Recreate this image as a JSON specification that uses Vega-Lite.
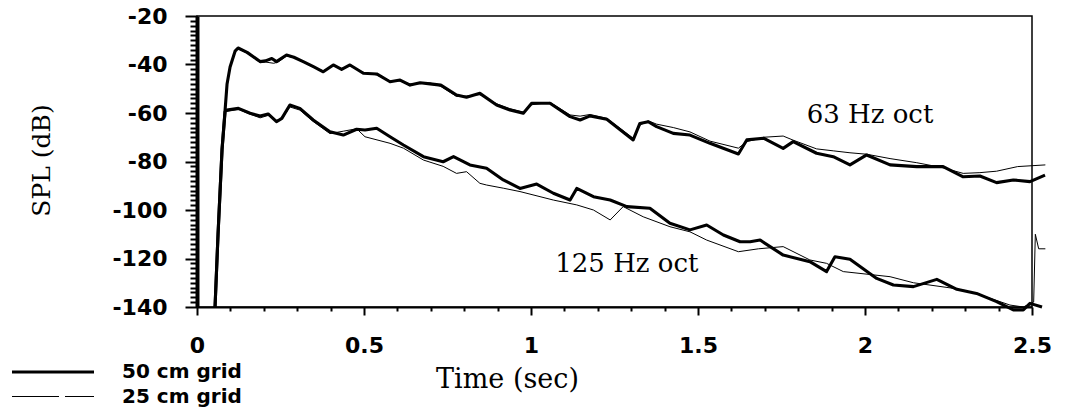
{
  "$schema": "https://vega.github.io/schema/vega-lite/v6.json",
  "width": 835,
  "height": 291,
  "autosize": {"type": "none"},
  "padding": {"left": 197, "top": 16, "right": 33, "bottom": 109},
  "background": "white",
  "config": {
    "view": {"stroke": "black", "strokeWidth": 1.5},
    "axis": {"grid": false, "domainColor": "black", "tickColor": "black", "labelColor": "black", "titleColor": "black", "labelOverlap": false}
  },
  "datasets": {
    "notes": [
      {"time": 2.015, "spl": -60.8, "note": "63 Hz oct"},
      {"time": 1.287, "spl": -122.3, "note": "125 Hz oct"}
    ],
    "curves": [
      {"band": "63", "grid": "25 cm grid", "time": 0.054, "spl": -140},
      {"band": "63", "grid": "25 cm grid", "time": 0.063, "spl": -110},
      {"band": "63", "grid": "25 cm grid", "time": 0.075, "spl": -75},
      {"band": "63", "grid": "25 cm grid", "time": 0.084, "spl": -59},
      {"band": "63", "grid": "25 cm grid", "time": 0.09, "spl": -48},
      {"band": "63", "grid": "25 cm grid", "time": 0.099, "spl": -41},
      {"band": "63", "grid": "25 cm grid", "time": 0.114, "spl": -34.8},
      {"band": "63", "grid": "25 cm grid", "time": 0.123, "spl": -33.5},
      {"band": "63", "grid": "25 cm grid", "time": 0.15, "spl": -35.3},
      {"band": "63", "grid": "25 cm grid", "time": 0.189, "spl": -39.2},
      {"band": "63", "grid": "25 cm grid", "time": 0.205, "spl": -39},
      {"band": "63", "grid": "25 cm grid", "time": 0.23, "spl": -39.5},
      {"band": "63", "grid": "25 cm grid", "time": 0.245, "spl": -38.8},
      {"band": "63", "grid": "25 cm grid", "time": 0.268, "spl": -36.5},
      {"band": "63", "grid": "25 cm grid", "time": 0.29, "spl": -37.2},
      {"band": "63", "grid": "25 cm grid", "time": 0.318, "spl": -39},
      {"band": "63", "grid": "25 cm grid", "time": 0.35, "spl": -41.2},
      {"band": "63", "grid": "25 cm grid", "time": 0.378, "spl": -42.6},
      {"band": "63", "grid": "25 cm grid", "time": 0.408, "spl": -40.6},
      {"band": "63", "grid": "25 cm grid", "time": 0.433, "spl": -41.6},
      {"band": "63", "grid": "25 cm grid", "time": 0.458, "spl": -40.6},
      {"band": "63", "grid": "25 cm grid", "time": 0.498, "spl": -43.2},
      {"band": "63", "grid": "25 cm grid", "time": 0.538, "spl": -44.3},
      {"band": "63", "grid": "25 cm grid", "time": 0.578, "spl": -46.8},
      {"band": "63", "grid": "25 cm grid", "time": 0.608, "spl": -46.8},
      {"band": "63", "grid": "25 cm grid", "time": 0.638, "spl": -48},
      {"band": "63", "grid": "25 cm grid", "time": 0.668, "spl": -47.9},
      {"band": "63", "grid": "25 cm grid", "time": 0.698, "spl": -47.6},
      {"band": "63", "grid": "25 cm grid", "time": 0.73, "spl": -49},
      {"band": "63", "grid": "25 cm grid", "time": 0.777, "spl": -53.2},
      {"band": "63", "grid": "25 cm grid", "time": 0.807, "spl": -53},
      {"band": "63", "grid": "25 cm grid", "time": 0.847, "spl": -52.4},
      {"band": "63", "grid": "25 cm grid", "time": 0.897, "spl": -56.2},
      {"band": "63", "grid": "25 cm grid", "time": 0.937, "spl": -58.2},
      {"band": "63", "grid": "25 cm grid", "time": 0.977, "spl": -59.6},
      {"band": "63", "grid": "25 cm grid", "time": 1.002, "spl": -56.6},
      {"band": "63", "grid": "25 cm grid", "time": 1.057, "spl": -55.6},
      {"band": "63", "grid": "25 cm grid", "time": 1.117, "spl": -60.8},
      {"band": "63", "grid": "25 cm grid", "time": 1.147, "spl": -61.3},
      {"band": "63", "grid": "25 cm grid", "time": 1.177, "spl": -60.6},
      {"band": "63", "grid": "25 cm grid", "time": 1.227, "spl": -62.2},
      {"band": "63", "grid": "25 cm grid", "time": 1.306, "spl": -70.4},
      {"band": "63", "grid": "25 cm grid", "time": 1.326, "spl": -65},
      {"band": "63", "grid": "25 cm grid", "time": 1.351, "spl": -63.2},
      {"band": "63", "grid": "25 cm grid", "time": 1.376, "spl": -64.6},
      {"band": "63", "grid": "25 cm grid", "time": 1.426, "spl": -66},
      {"band": "63", "grid": "25 cm grid", "time": 1.476, "spl": -67.8},
      {"band": "63", "grid": "25 cm grid", "time": 1.536, "spl": -71.6},
      {"band": "63", "grid": "25 cm grid", "time": 1.621, "spl": -74.5},
      {"band": "63", "grid": "25 cm grid", "time": 1.646, "spl": -71.8},
      {"band": "63", "grid": "25 cm grid", "time": 1.681, "spl": -70.6},
      {"band": "63", "grid": "25 cm grid", "time": 1.696, "spl": -70},
      {"band": "63", "grid": "25 cm grid", "time": 1.755, "spl": -69.5},
      {"band": "63", "grid": "25 cm grid", "time": 1.785, "spl": -71.2},
      {"band": "63", "grid": "25 cm grid", "time": 1.855, "spl": -74.8},
      {"band": "63", "grid": "25 cm grid", "time": 1.905, "spl": -75.6},
      {"band": "63", "grid": "25 cm grid", "time": 1.955, "spl": -76.4},
      {"band": "63", "grid": "25 cm grid", "time": 2.005, "spl": -77},
      {"band": "63", "grid": "25 cm grid", "time": 2.075, "spl": -78.8},
      {"band": "63", "grid": "25 cm grid", "time": 2.155, "spl": -80.5},
      {"band": "63", "grid": "25 cm grid", "time": 2.234, "spl": -82.6},
      {"band": "63", "grid": "25 cm grid", "time": 2.294, "spl": -84.9},
      {"band": "63", "grid": "25 cm grid", "time": 2.344, "spl": -84.6},
      {"band": "63", "grid": "25 cm grid", "time": 2.394, "spl": -84},
      {"band": "63", "grid": "25 cm grid", "time": 2.457, "spl": -82.1},
      {"band": "63", "grid": "25 cm grid", "time": 2.54, "spl": -81.4},

      {"band": "125", "grid": "25 cm grid", "time": 0.054, "spl": -140},
      {"band": "125", "grid": "25 cm grid", "time": 0.063, "spl": -110},
      {"band": "125", "grid": "25 cm grid", "time": 0.075, "spl": -75},
      {"band": "125", "grid": "25 cm grid", "time": 0.084, "spl": -59.5},
      {"band": "125", "grid": "25 cm grid", "time": 0.124, "spl": -58.5},
      {"band": "125", "grid": "25 cm grid", "time": 0.159, "spl": -60.5},
      {"band": "125", "grid": "25 cm grid", "time": 0.189, "spl": -62},
      {"band": "125", "grid": "25 cm grid", "time": 0.213, "spl": -61},
      {"band": "125", "grid": "25 cm grid", "time": 0.238, "spl": -63},
      {"band": "125", "grid": "25 cm grid", "time": 0.254, "spl": -62.5},
      {"band": "125", "grid": "25 cm grid", "time": 0.278, "spl": -57.5},
      {"band": "125", "grid": "25 cm grid", "time": 0.308, "spl": -58.8},
      {"band": "125", "grid": "25 cm grid", "time": 0.348, "spl": -63.5},
      {"band": "125", "grid": "25 cm grid", "time": 0.398, "spl": -68.5},
      {"band": "125", "grid": "25 cm grid", "time": 0.438, "spl": -67.5},
      {"band": "125", "grid": "25 cm grid", "time": 0.478, "spl": -66.5},
      {"band": "125", "grid": "25 cm grid", "time": 0.503, "spl": -69.8},
      {"band": "125", "grid": "25 cm grid", "time": 0.578, "spl": -72.5},
      {"band": "125", "grid": "25 cm grid", "time": 0.618, "spl": -74.5},
      {"band": "125", "grid": "25 cm grid", "time": 0.678, "spl": -79.4},
      {"band": "125", "grid": "25 cm grid", "time": 0.737, "spl": -82},
      {"band": "125", "grid": "25 cm grid", "time": 0.777, "spl": -84.9},
      {"band": "125", "grid": "25 cm grid", "time": 0.807, "spl": -84.2},
      {"band": "125", "grid": "25 cm grid", "time": 0.847, "spl": -89},
      {"band": "125", "grid": "25 cm grid", "time": 0.867, "spl": -89.7},
      {"band": "125", "grid": "25 cm grid", "time": 0.917, "spl": -91},
      {"band": "125", "grid": "25 cm grid", "time": 0.967, "spl": -92.4},
      {"band": "125", "grid": "25 cm grid", "time": 1.067, "spl": -95.9},
      {"band": "125", "grid": "25 cm grid", "time": 1.137, "spl": -97.9},
      {"band": "125", "grid": "25 cm grid", "time": 1.187, "spl": -100},
      {"band": "125", "grid": "25 cm grid", "time": 1.237, "spl": -104.1},
      {"band": "125", "grid": "25 cm grid", "time": 1.276, "spl": -98.6},
      {"band": "125", "grid": "25 cm grid", "time": 1.336, "spl": -102.8},
      {"band": "125", "grid": "25 cm grid", "time": 1.416, "spl": -106.9},
      {"band": "125", "grid": "25 cm grid", "time": 1.476, "spl": -109},
      {"band": "125", "grid": "25 cm grid", "time": 1.526, "spl": -112.4},
      {"band": "125", "grid": "25 cm grid", "time": 1.621, "spl": -117.2},
      {"band": "125", "grid": "25 cm grid", "time": 1.681, "spl": -116},
      {"band": "125", "grid": "25 cm grid", "time": 1.755, "spl": -115.1},
      {"band": "125", "grid": "25 cm grid", "time": 1.835, "spl": -120.6},
      {"band": "125", "grid": "25 cm grid", "time": 1.885, "spl": -122},
      {"band": "125", "grid": "25 cm grid", "time": 1.935, "spl": -125.4},
      {"band": "125", "grid": "25 cm grid", "time": 2.075, "spl": -127.5},
      {"band": "125", "grid": "25 cm grid", "time": 2.145, "spl": -130},
      {"band": "125", "grid": "25 cm grid", "time": 2.275, "spl": -132.5},
      {"band": "125", "grid": "25 cm grid", "time": 2.334, "spl": -134.5},
      {"band": "125", "grid": "25 cm grid", "time": 2.434, "spl": -139.2},
      {"band": "125", "grid": "25 cm grid", "time": 2.474, "spl": -140},
      {"band": "125", "grid": "25 cm grid", "time": 2.505, "spl": -138},
      {"band": "125", "grid": "25 cm grid", "time": 2.51, "spl": -110},
      {"band": "125", "grid": "25 cm grid", "time": 2.52, "spl": -116},
      {"band": "125", "grid": "25 cm grid", "time": 2.54, "spl": -116},

      {"band": "63", "grid": "50 cm grid", "time": 0.054, "spl": -140},
      {"band": "63", "grid": "50 cm grid", "time": 0.063, "spl": -110},
      {"band": "63", "grid": "50 cm grid", "time": 0.075, "spl": -75},
      {"band": "63", "grid": "50 cm grid", "time": 0.084, "spl": -59},
      {"band": "63", "grid": "50 cm grid", "time": 0.09, "spl": -48},
      {"band": "63", "grid": "50 cm grid", "time": 0.099, "spl": -41},
      {"band": "63", "grid": "50 cm grid", "time": 0.114, "spl": -34.5},
      {"band": "63", "grid": "50 cm grid", "time": 0.123, "spl": -33.2},
      {"band": "63", "grid": "50 cm grid", "time": 0.15, "spl": -35},
      {"band": "63", "grid": "50 cm grid", "time": 0.189, "spl": -38.8},
      {"band": "63", "grid": "50 cm grid", "time": 0.205, "spl": -38.5},
      {"band": "63", "grid": "50 cm grid", "time": 0.224, "spl": -37.5},
      {"band": "63", "grid": "50 cm grid", "time": 0.238, "spl": -38.8},
      {"band": "63", "grid": "50 cm grid", "time": 0.268, "spl": -36.1},
      {"band": "63", "grid": "50 cm grid", "time": 0.29, "spl": -37},
      {"band": "63", "grid": "50 cm grid", "time": 0.318, "spl": -38.8},
      {"band": "63", "grid": "50 cm grid", "time": 0.35, "spl": -41},
      {"band": "63", "grid": "50 cm grid", "time": 0.378, "spl": -43},
      {"band": "63", "grid": "50 cm grid", "time": 0.408, "spl": -40.2},
      {"band": "63", "grid": "50 cm grid", "time": 0.433, "spl": -42},
      {"band": "63", "grid": "50 cm grid", "time": 0.458, "spl": -40.2},
      {"band": "63", "grid": "50 cm grid", "time": 0.498, "spl": -43.6},
      {"band": "63", "grid": "50 cm grid", "time": 0.538, "spl": -43.9},
      {"band": "63", "grid": "50 cm grid", "time": 0.578, "spl": -47.1},
      {"band": "63", "grid": "50 cm grid", "time": 0.608, "spl": -46.4},
      {"band": "63", "grid": "50 cm grid", "time": 0.638, "spl": -48.5},
      {"band": "63", "grid": "50 cm grid", "time": 0.668, "spl": -47.5},
      {"band": "63", "grid": "50 cm grid", "time": 0.698, "spl": -48},
      {"band": "63", "grid": "50 cm grid", "time": 0.73, "spl": -48.5},
      {"band": "63", "grid": "50 cm grid", "time": 0.777, "spl": -52.6},
      {"band": "63", "grid": "50 cm grid", "time": 0.807, "spl": -53.5},
      {"band": "63", "grid": "50 cm grid", "time": 0.847, "spl": -51.9},
      {"band": "63", "grid": "50 cm grid", "time": 0.897, "spl": -56.7},
      {"band": "63", "grid": "50 cm grid", "time": 0.937, "spl": -58.8},
      {"band": "63", "grid": "50 cm grid", "time": 0.977, "spl": -60.1},
      {"band": "63", "grid": "50 cm grid", "time": 1.002, "spl": -56},
      {"band": "63", "grid": "50 cm grid", "time": 1.057, "spl": -56},
      {"band": "63", "grid": "50 cm grid", "time": 1.117, "spl": -61.5},
      {"band": "63", "grid": "50 cm grid", "time": 1.147, "spl": -62.9},
      {"band": "63", "grid": "50 cm grid", "time": 1.177, "spl": -61.2},
      {"band": "63", "grid": "50 cm grid", "time": 1.227, "spl": -62.6},
      {"band": "63", "grid": "50 cm grid", "time": 1.306, "spl": -71.1},
      {"band": "63", "grid": "50 cm grid", "time": 1.326, "spl": -64.3},
      {"band": "63", "grid": "50 cm grid", "time": 1.351, "spl": -63.6},
      {"band": "63", "grid": "50 cm grid", "time": 1.376, "spl": -65.6},
      {"band": "63", "grid": "50 cm grid", "time": 1.426, "spl": -68.4},
      {"band": "63", "grid": "50 cm grid", "time": 1.476, "spl": -69.1},
      {"band": "63", "grid": "50 cm grid", "time": 1.536, "spl": -72.5},
      {"band": "63", "grid": "50 cm grid", "time": 1.621, "spl": -76.9},
      {"band": "63", "grid": "50 cm grid", "time": 1.646, "spl": -71.1},
      {"band": "63", "grid": "50 cm grid", "time": 1.696, "spl": -70.4},
      {"band": "63", "grid": "50 cm grid", "time": 1.755, "spl": -74.6},
      {"band": "63", "grid": "50 cm grid", "time": 1.785, "spl": -71.8},
      {"band": "63", "grid": "50 cm grid", "time": 1.855, "spl": -76.6},
      {"band": "63", "grid": "50 cm grid", "time": 1.905, "spl": -78},
      {"band": "63", "grid": "50 cm grid", "time": 1.955, "spl": -81.4},
      {"band": "63", "grid": "50 cm grid", "time": 2.005, "spl": -77.3},
      {"band": "63", "grid": "50 cm grid", "time": 2.075, "spl": -81.4},
      {"band": "63", "grid": "50 cm grid", "time": 2.155, "spl": -82.1},
      {"band": "63", "grid": "50 cm grid", "time": 2.234, "spl": -82.1},
      {"band": "63", "grid": "50 cm grid", "time": 2.294, "spl": -86.3},
      {"band": "63", "grid": "50 cm grid", "time": 2.344, "spl": -86},
      {"band": "63", "grid": "50 cm grid", "time": 2.394, "spl": -88.7},
      {"band": "63", "grid": "50 cm grid", "time": 2.444, "spl": -87.6},
      {"band": "63", "grid": "50 cm grid", "time": 2.494, "spl": -88.3},
      {"band": "63", "grid": "50 cm grid", "time": 2.539, "spl": -85.6},

      {"band": "125", "grid": "50 cm grid", "time": 0.054, "spl": -140},
      {"band": "125", "grid": "50 cm grid", "time": 0.063, "spl": -110},
      {"band": "125", "grid": "50 cm grid", "time": 0.075, "spl": -75},
      {"band": "125", "grid": "50 cm grid", "time": 0.084, "spl": -59.5},
      {"band": "125", "grid": "50 cm grid", "time": 0.089, "spl": -58.8},
      {"band": "125", "grid": "50 cm grid", "time": 0.124, "spl": -58.1},
      {"band": "125", "grid": "50 cm grid", "time": 0.159, "spl": -60.1},
      {"band": "125", "grid": "50 cm grid", "time": 0.189, "spl": -61.2},
      {"band": "125", "grid": "50 cm grid", "time": 0.213, "spl": -60.4},
      {"band": "125", "grid": "50 cm grid", "time": 0.238, "spl": -63.6},
      {"band": "125", "grid": "50 cm grid", "time": 0.254, "spl": -62.2},
      {"band": "125", "grid": "50 cm grid", "time": 0.278, "spl": -56.7},
      {"band": "125", "grid": "50 cm grid", "time": 0.308, "spl": -58.1},
      {"band": "125", "grid": "50 cm grid", "time": 0.348, "spl": -62.9},
      {"band": "125", "grid": "50 cm grid", "time": 0.398, "spl": -67.7},
      {"band": "125", "grid": "50 cm grid", "time": 0.438, "spl": -69.1},
      {"band": "125", "grid": "50 cm grid", "time": 0.478, "spl": -66.7},
      {"band": "125", "grid": "50 cm grid", "time": 0.503, "spl": -67},
      {"band": "125", "grid": "50 cm grid", "time": 0.538, "spl": -66.3},
      {"band": "125", "grid": "50 cm grid", "time": 0.578, "spl": -69.8},
      {"band": "125", "grid": "50 cm grid", "time": 0.618, "spl": -73.2},
      {"band": "125", "grid": "50 cm grid", "time": 0.678, "spl": -78},
      {"band": "125", "grid": "50 cm grid", "time": 0.737, "spl": -80.1},
      {"band": "125", "grid": "50 cm grid", "time": 0.768, "spl": -78},
      {"band": "125", "grid": "50 cm grid", "time": 0.817, "spl": -81.4},
      {"band": "125", "grid": "50 cm grid", "time": 0.867, "spl": -82.8},
      {"band": "125", "grid": "50 cm grid", "time": 0.917, "spl": -87.6},
      {"band": "125", "grid": "50 cm grid", "time": 0.967, "spl": -91.1},
      {"band": "125", "grid": "50 cm grid", "time": 1.017, "spl": -89.3},
      {"band": "125", "grid": "50 cm grid", "time": 1.067, "spl": -93.1},
      {"band": "125", "grid": "50 cm grid", "time": 1.117, "spl": -95.9},
      {"band": "125", "grid": "50 cm grid", "time": 1.137, "spl": -91.1},
      {"band": "125", "grid": "50 cm grid", "time": 1.187, "spl": -94.5},
      {"band": "125", "grid": "50 cm grid", "time": 1.237, "spl": -95.9},
      {"band": "125", "grid": "50 cm grid", "time": 1.287, "spl": -98.6},
      {"band": "125", "grid": "50 cm grid", "time": 1.356, "spl": -99.3},
      {"band": "125", "grid": "50 cm grid", "time": 1.416, "spl": -105.5},
      {"band": "125", "grid": "50 cm grid", "time": 1.476, "spl": -108.2},
      {"band": "125", "grid": "50 cm grid", "time": 1.526, "spl": -106.2},
      {"band": "125", "grid": "50 cm grid", "time": 1.576, "spl": -110.3},
      {"band": "125", "grid": "50 cm grid", "time": 1.626, "spl": -113.1},
      {"band": "125", "grid": "50 cm grid", "time": 1.656, "spl": -113.1},
      {"band": "125", "grid": "50 cm grid", "time": 1.686, "spl": -112.4},
      {"band": "125", "grid": "50 cm grid", "time": 1.755, "spl": -118.6},
      {"band": "125", "grid": "50 cm grid", "time": 1.835, "spl": -121.3},
      {"band": "125", "grid": "50 cm grid", "time": 1.885, "spl": -125.4},
      {"band": "125", "grid": "50 cm grid", "time": 1.91, "spl": -119.3},
      {"band": "125", "grid": "50 cm grid", "time": 1.955, "spl": -120.3},
      {"band": "125", "grid": "50 cm grid", "time": 2.035, "spl": -128.2},
      {"band": "125", "grid": "50 cm grid", "time": 2.085, "spl": -130.9},
      {"band": "125", "grid": "50 cm grid", "time": 2.145, "spl": -131.6},
      {"band": "125", "grid": "50 cm grid", "time": 2.215, "spl": -128.6},
      {"band": "125", "grid": "50 cm grid", "time": 2.275, "spl": -132.7},
      {"band": "125", "grid": "50 cm grid", "time": 2.334, "spl": -134.4},
      {"band": "125", "grid": "50 cm grid", "time": 2.394, "spl": -137.8},
      {"band": "125", "grid": "50 cm grid", "time": 2.444, "spl": -141.2},
      {"band": "125", "grid": "50 cm grid", "time": 2.474, "spl": -141.2},
      {"band": "125", "grid": "50 cm grid", "time": 2.494, "spl": -138.5},
      {"band": "125", "grid": "50 cm grid", "time": 2.53, "spl": -140}
    ]
  },
  "encoding": {
    "x": {
      "field": "time", "type": "quantitative",
      "scale": {"domain": [0, 2.5], "nice": false, "zero": false},
      "axis": {
        "title": "Time (sec)",
        "values": [0, 0.1, 0.2, 0.3, 0.4, 0.5, 0.6, 0.7, 0.8, 0.9, 1, 1.1, 1.2, 1.3, 1.4, 1.5, 1.6, 1.7, 1.8, 1.9, 2, 2.1, 2.2, 2.3, 2.4, 2.5],
        "labelExpr": "abs(datum.value*2 - round(datum.value*2)) < 0.001 ? toString(round(datum.value*10)/10) : ''",
        "labelOverlap": false, "labelFlush": false, "labelBound": false,
        "tickSize": {"condition": {"test": "abs(datum.value*2 - round(datum.value*2)) < 0.001", "value": 8}, "value": 4},
        "tickWidth": 2,
        "domainWidth": 2,
        "labelFont": "DejaVu Sans", "labelFontSize": 22, "labelFontWeight": "bold",
        "labelBaseline": "alphabetic", "labelPadding": 37,
        "titleFont": "DejaVu Serif", "titleFontSize": 27, "titleFontWeight": "normal",
        "titleX": 310, "titleY": 72, "titleBaseline": "middle", "titleAlign": "center"
      }
    },
    "y": {
      "field": "spl", "type": "quantitative",
      "scale": {"domain": [-140, -20], "nice": false, "zero": false},
      "axis": {
        "title": "SPL (dB)",
        "values": [-140,-138,-136,-134,-132,-130,-128,-126,-124,-122,-120,-118,-116,-114,-112,-110,-108,-106,-104,-102,-100,-98,-96,-94,-92,-90,-88,-86,-84,-82,-80,-78,-76,-74,-72,-70,-68,-66,-64,-62,-60,-58,-56,-54,-52,-50,-48,-46,-44,-42,-40,-38,-36,-34,-32,-30,-28,-26,-24,-22,-20],
        "labelExpr": "datum.value % 20 === 0 ? '-' + toString(abs(datum.value)) : ''",
        "labelOverlap": false, "labelFlush": false, "labelBound": false,
        "tickSize": {"condition": {"test": "datum.value % 20 === 0", "value": 12}, "value": 7},
        "tickWidth": 2,
        "domainWidth": 4,
        "labelFont": "DejaVu Sans", "labelFontSize": 22, "labelFontWeight": "bold",
        "labelBaseline": "middle", "labelPadding": 18,
        "titleFont": "DejaVu Serif", "titleFontSize": 25, "titleFontWeight": "normal",
        "titleX": -156, "titleY": 144, "titleBaseline": "middle", "titleAlign": "center", "titleAngle": -90
      }
    }
  },
  "layer": [
    {
      "data": {"name": "curves"},
      "mark": {"type": "line", "clip": false, "stroke": "black", "strokeJoin": "round", "strokeCap": "butt"},
      "encoding": {
        "detail": {"field": "band"},
        "strokeWidth": {
          "field": "grid", "type": "nominal",
          "scale": {"domain": ["50 cm grid", "25 cm grid"], "range": [3.1, 1]},
          "legend": {
            "title": null,
            "orient": "none", "legendX": -156, "legendY": 344,
            "symbolType": "M-4.1,0H4.1", "symbolSize": 400, "symbolStrokeColor": "black", "symbolFillColor": "transparent",
            "labelFont": "DejaVu Sans", "labelFontSize": 20, "labelFontWeight": "bold", "labelColor": "black",
            "labelOffset": 57, "rowPadding": 4, "padding": 0,
            "encode": {"symbols": {"update": {"strokeDash": [{"test": "datum.value === '25 cm grid'", "value": [47, 6]}, {"value": [1, 0]}]}}}
          }
        }
      }
    },
    {
      "data": {"name": "notes"},
      "mark": {"type": "text", "font": "DejaVu Serif", "fontSize": 26, "color": "black", "align": "center", "baseline": "middle"},
      "encoding": {
        "text": {"field": "note"}
      }
    }
  ]
}
